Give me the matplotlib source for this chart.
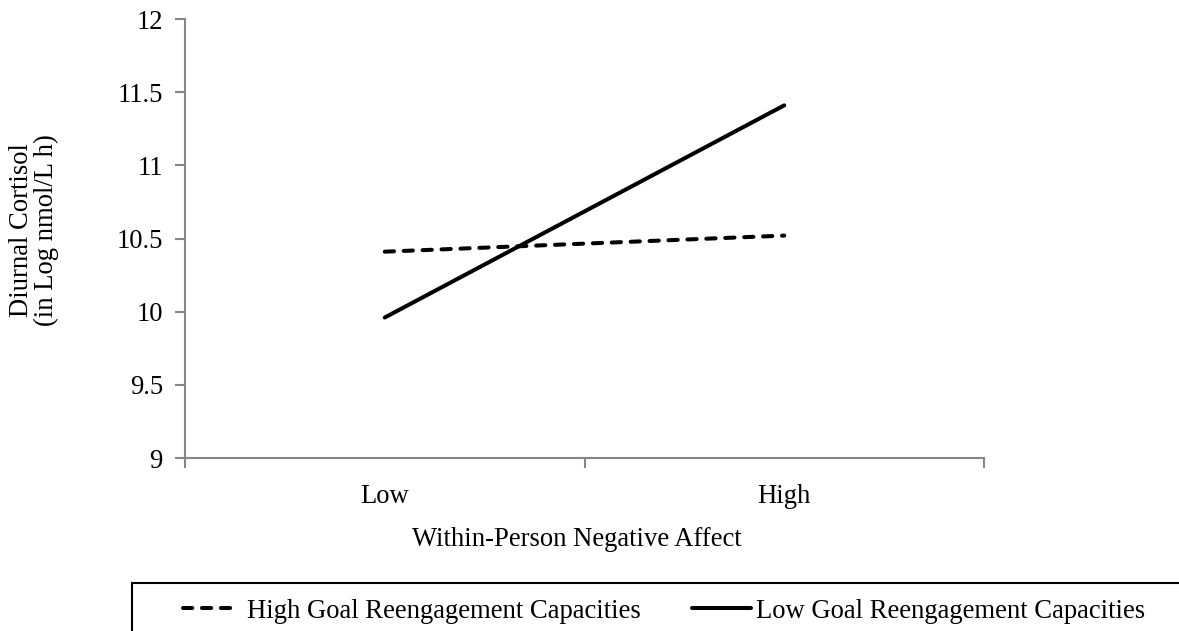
import matplotlib
matplotlib.use("Agg")
import matplotlib.pyplot as plt
from matplotlib.patches import Rectangle

# data
categories = ["Low", "High"]
high_goal = [10.41, 10.52]
low_goal = [9.96, 11.41]
series_names = ["High Goal Reengagement Capacities", "Low Goal Reengagement Capacities"]
y_ticks = [9, 9.5, 10, 10.5, 11, 11.5, 12]
y_tick_labels = ["9", "9.5", "10", "10.5", "11", "11.5", "12"]

plt.rcParams["font.family"] = ["Liberation Serif", "DejaVu Serif"]
FS = 19.2
W, H = 1179, 631
fig = plt.figure(figsize=(W / 100, H / 100), dpi=100)
ax = fig.add_axes([185 / W, 1 - 458 / H, (984 - 185) / W, (458 - 19) / H])

x = [0.5, 1.5]
l1, = ax.plot(x, high_goal, color="black", lw=2.9, dashes=(2.3, 2.4),
              dash_capstyle="round", solid_capstyle="round")
l2, = ax.plot(x, low_goal, color="black", lw=2.9, solid_capstyle="round")

ax.set_xlim(0, 2)
ax.set_ylim(9, 12)
ax.set_yticks(y_ticks)
ax.set_yticklabels(y_tick_labels)
ax.set_xticks([0, 1, 2])
ax.set_xticklabels([])
ax.set_xticks(x, minor=True)
ax.set_xticklabels(categories, minor=True)

grey = "#868686"
for s in ["top", "right"]:
    ax.spines[s].set_visible(False)
for s in ["left", "bottom"]:
    ax.spines[s].set_color(grey)
    ax.spines[s].set_linewidth(1.5)
ax.tick_params(axis="both", which="major", color=grey, width=1.5, length=7,
               labelsize=FS, pad=9)
ax.tick_params(axis="x", which="minor", length=0, labelsize=FS, pad=19)

ax.set_xlabel("Within-Person Negative Affect", fontsize=FS)
ax.xaxis.set_label_coords(0.49, -0.157)
fig.text(34 / W, 1 - 230 / H, "Diurnal Cortisol\n(in Log nmol/L h)",
         rotation=90, ha="center", va="center", fontsize=FS, linespacing=0.95)

# legend box running off the figure edge
fig.patches.append(Rectangle((132 / W, -0.1), 1.2, 1 - 583 / H + 0.1,
                             transform=fig.transFigure, fill=False,
                             edgecolor="black", lw=1.5))
leg_y = 1 - 611 / H
fig.legend([l1], series_names[:1], loc="center left", frameon=False,
           bbox_to_anchor=(183 / W, leg_y), fontsize=FS, borderpad=0,
           handlelength=1.95, handletextpad=0.44, borderaxespad=0)
fig.legend([l2], series_names[1:], loc="center left", frameon=False,
           bbox_to_anchor=(692 / W, leg_y), fontsize=FS, borderpad=0,
           handlelength=2.22, handletextpad=0.19, borderaxespad=0)

fig.savefig("out.png", dpi=100)
